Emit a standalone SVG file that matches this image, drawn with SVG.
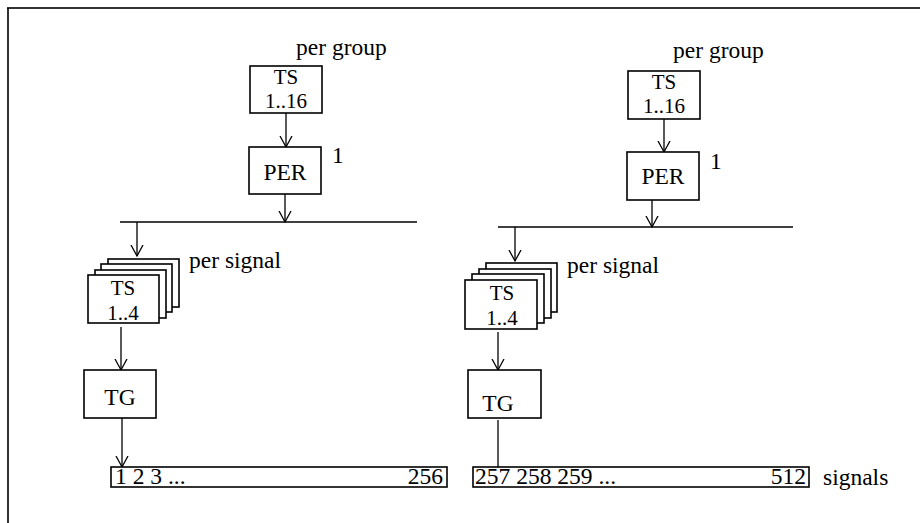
<svg xmlns="http://www.w3.org/2000/svg" width="920" height="523" viewBox="0 0 920 523">
<defs>
<marker id="arr" markerWidth="14" markerHeight="14" refX="11" refY="6.5" orient="auto" markerUnits="userSpaceOnUse">
<path d="M0,0.5 L11,6.5 L0,12.5" fill="none" stroke="#000" stroke-width="1.3"/>
</marker>
</defs>
<style>
text{font-family:"Liberation Serif","Times New Roman",serif;font-size:23.5px;fill:#000}
.c{text-anchor:middle}
.e{text-anchor:end}
.s{font-size:21px}
.box{fill:#fff;stroke:#000;stroke-width:1.6}
.ln{fill:none;stroke:#000;stroke-width:1.3}
.bus{fill:none;stroke:#000;stroke-width:1.6}
</style>
<rect width="920" height="523" fill="#fff"/>
<g id="frame">
<line x1="7" y1="8" x2="920" y2="8" stroke="#333" stroke-width="2.2"/>
<line x1="8" y1="8" x2="8" y2="523" stroke="#000" stroke-width="1.6"/>
</g>
<g id="connectors">
<line class="ln" x1="286" y1="113" x2="286" y2="147" marker-end="url(#arr)"/>
<line class="ln" x1="285" y1="194" x2="285" y2="222" marker-end="url(#arr)"/>
<line class="bus" x1="120" y1="222" x2="417" y2="222"/>
<line class="ln" x1="137" y1="222" x2="137" y2="256" marker-end="url(#arr)"/>
<line class="ln" x1="121" y1="327" x2="121" y2="370" marker-end="url(#arr)"/>
<line class="ln" x1="122" y1="418" x2="122" y2="467" marker-end="url(#arr)"/>
<line class="ln" x1="664" y1="119" x2="664" y2="152" marker-end="url(#arr)"/>
<line class="ln" x1="652" y1="200" x2="652" y2="227" marker-end="url(#arr)"/>
<line class="bus" x1="498" y1="227" x2="793" y2="227"/>
<line class="ln" x1="515" y1="227" x2="515" y2="261" marker-end="url(#arr)"/>
<line class="ln" x1="498" y1="332" x2="498" y2="370" marker-end="url(#arr)"/>
<line class="ln" x1="498" y1="420" x2="498" y2="475"/>
</g>
<g id="left-ts16">
<text x="296" y="55">per group</text>
<rect class="box" x="250" y="66" width="72" height="47"/>
<text class="c s" x="286" y="84">TS</text>
<text class="c s" x="286" y="108">1..16</text>
</g>
<g id="left-per">
<rect class="box" x="249" y="147" width="72" height="47"/>
<text class="c" x="285" y="180">PER</text>
<text x="332" y="163">1</text>
</g>
<g id="left-ts4">
<rect class="box" x="108" y="259" width="71" height="48"/>
<rect class="box" x="101" y="264" width="71" height="48"/>
<rect class="box" x="95" y="270" width="71" height="48"/>
<rect class="box" x="88" y="275" width="71" height="48"/>
<text class="c s" x="123" y="295">TS</text>
<text class="c s" x="123" y="320">1..4</text>
<text x="189" y="268">per signal</text>
</g>
<g id="left-tg">
<rect class="box" x="84" y="370" width="72" height="48"/>
<text class="c" x="120" y="405">TG</text>
</g>
<g id="left-signals">
<rect class="box" x="111" y="467" width="336" height="20"/>
<text x="115" y="484">1 2 3 ...</text>
<text class="e" x="443" y="484">256</text>
</g>
<g id="right-ts16">
<text x="673" y="58">per group</text>
<rect class="box" x="628" y="71" width="72" height="48"/>
<text class="c s" x="664" y="89">TS</text>
<text class="c s" x="664" y="113">1..16</text>
</g>
<g id="right-per">
<rect class="box" x="627" y="152" width="72" height="48"/>
<text class="c" x="663" y="184">PER</text>
<text x="710" y="169">1</text>
</g>
<g id="right-ts4">
<rect class="box" x="486" y="263" width="71" height="49"/>
<rect class="box" x="479" y="269" width="72" height="49"/>
<rect class="box" x="472" y="274" width="72" height="49"/>
<rect class="box" x="465" y="280" width="72" height="49"/>
<text class="c s" x="502" y="300">TS</text>
<text class="c s" x="502" y="325">1..4</text>
<text x="567" y="273">per signal</text>
</g>
<g id="right-tg">
<rect class="box" x="468" y="370" width="73" height="48"/>
<text class="c" x="498" y="411">TG</text>
</g>
<g id="right-signals">
<rect class="box" x="473" y="467" width="336" height="20"/>
<text x="475" y="484">257 258 259 ...</text>
<text class="e" x="806" y="484">512</text>
<text x="823" y="485">signals</text>
</g>
</svg>
